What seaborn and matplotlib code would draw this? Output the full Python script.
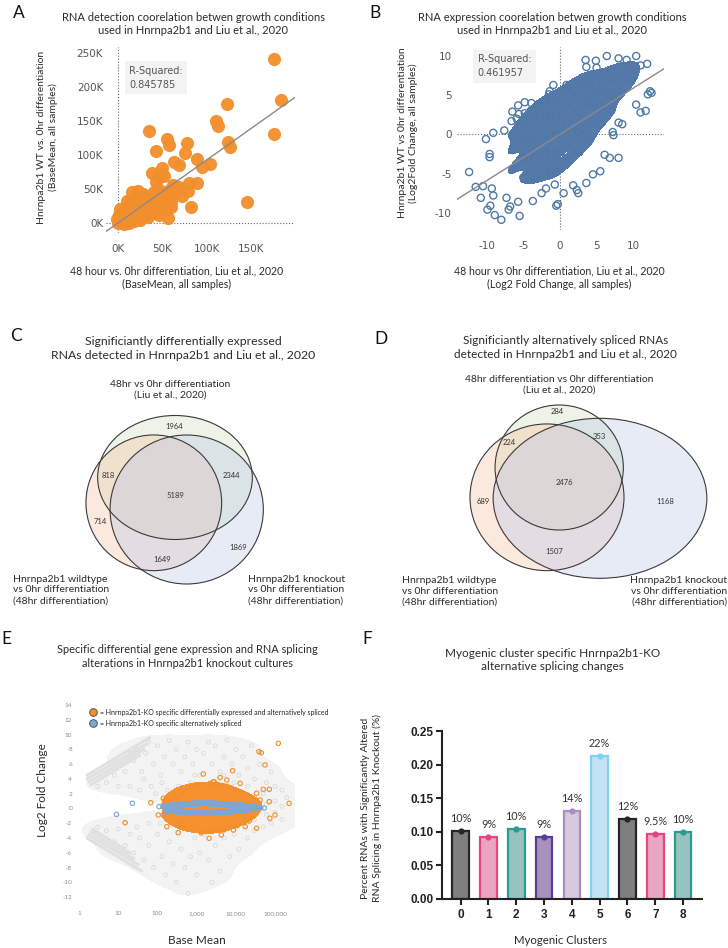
import seaborn as sns
import matplotlib.pyplot as plt
from matplotlib.patches import Ellipse
from matplotlib.colors import ListedColormap
from matplotlib.lines import Line2D
from matplotlib.ticker import NullLocator

W, H = 728, 948

# ---------------- A: BaseMean correlation (thousands) ----------------
A_X = [175.6, 184, 176, 123, 110, 112, 34.6, 54.5, 57.5, 43,
       78, 75, 124, 126, 63, 69, 89, 95, 104, 89,
       145, 81.6, 80, 79, 37.6, 46, 55.6, 49, 48, 52,
       42, 59.5, 49,
       0, 3, 5, 8, 10, 12, 15, 18, 20, 22,
       25, 26, 28, 30, 32, 35, 36, 38, 40, 42,
       44, 45, 48, 50, 52, 55, 58, 60, 62, 65,
       68, 4, 2, 10, 14, 20, 28, 6, 12, 18,
       24, 30, 34, 40, 46, 50, 55, 60, 70, 72,
       15, 10, 22, -2, 1]
A_Y = [240.7, 180, 130, 174.5, 150, 142, 135, 123, 114, 106,
       117, 103, 119, 112, 90, 85, 93, 82, 86, 59,
       31, 22.5, 59, 46.6, 73.5, 67.6, 7, 80, 72, 68,
       60, 23.6, 21,
       0, 2, 8, 3, 12, 6, 18, 10, 25, 15,
       30, 20, 8, 35, 25, 40, 18, 28, 45, 33,
       22, 50, 38, 28, 45, 35, 48, 40, 55, 45,
       52, 15, 20, 22, 30, 38, 42, -2, -1, 2,
       4, 12, 8, 14, 12, 18, 20, 30, 48, 40,
       45, 32, 46, 5, 12]
A_FIT = (0.925, 0.0)
A_R2 = "0.845785"

# ---------------- B: Log2 fold change correlation ----------------
B_OUT_X = [3.5, 4.9, 6.4, 8.0, 9.1, 10.4, 11.9, 11.0, 3.6, 5.0,
           12.3, 12.0, 12.5, 10.4, 11.0, 11.7, 8.0, 8.5, 7.2, 7.3,
           8.0, 5.5, 6.8, 6.1, -0.9, -1.4, -1.5, 0.9, -3.0, -3.9,
           -4.8, -5.7, -5.6, -4.8, -6.5, -6.6, -5.9, -7.6, -9.1, -10.1,
           -9.6, -9.6, -12.4, -11.5, -10.8, -9.9, -9.5, -8.9, -8.0, -6.8,
           -7.0, -5.5, -3.7, -2.5, -1.9, -0.5, -0.3, 0.5, 2.3, 2.5,
           1.8, 3.6, 4.5, -0.7, -10.5, -9.3, -9.1, -7.3, -5.7]
B_OUT_Y = [9.5, 9.4, 10.0, 9.7, 9.5, 10.0, 9.0, 8.8, 8.6, 8.5,
           5.5, 5.1, 5.3, 3.8, 2.8, 3.0, 1.5, 1.3, 0.3, -0.1,
           -3.0, -4.7, -3.0, -2.6, 6.3, 5.5, 5.1, 6.3, 3.7, 4.0,
           4.1, 3.7, 2.6, 2.7, 2.9, 1.7, 2.0, 0.5, 0.2, -0.6,
           -2.5, -2.9, -4.8, -6.7, -8.1, -9.6, -9.1, -10.3, -10.9, -9.2,
           -9.6, -10.4, -8.5, -7.5, -6.9, -9.1, -8.9, -7.5, -7.1, -7.5,
           -6.5, -6.2, -5.1, -6.4, -6.6, -6.9, -7.8, -8.1, -8.6]
B_CORE_X = [-6.5, -6.5, -6.5,
            -5, -5, -5, -5,
            -3.5, -3.5, -3.5, -3.5, -3.5,
            -2, -2, -2, -2, -2,
            -0.5, -0.5, -0.5, -0.5, -0.5,
            1, 1, 1, 1, 1,
            2.5, 2.5, 2.5, 2.5, 2.5,
            4, 4, 4, 4, 4,
            5.5, 5.5, 5.5, 5.5,
            7, 7, 7, 7,
            8.5, 8.5, 8.5,
            9.7, 9.7]
B_CORE_Y = [-4.5, -2, 0,
            -5.5, -3, -0.5, 1.8,
            -5.5, -3, -0.5, 2, 3.3,
            -5, -2.5, 0, 2.5, 4.3,
            -4.8, -2.3, 0, 2.5, 4.8,
            -3.5, -1, 1.5, 4, 5.8,
            -2.2, 0.3, 2.8, 5, 6.8,
            -0.8, 1.5, 4, 6, 7.3,
            1.3, 3.5, 5.5, 7.3,
            3, 5, 7, 8,
            5.5, 7, 8.2,
            7, 8.2]
B_FIT = (0.59, 0.0)
B_R2 = "0.461957"

# ---------------- C / D: Venn region counts ----------------
C_COUNTS = ["1964", "818", "2344", "5189", "714", "1649", "1869"]
D_COUNTS = ["284", "224", "353", "2476", "689", "1168", "1507"]

# ---------------- E: MA plot (base mean, log2 fold change) ----------------
E_GRAY_UP_BM = [3, 5, 8, 10, 12, 15, 20, 20, 25, 30,
                35, 40, 45, 50, 60, 70, 80, 90, 100, 120,
                130, 150, 180, 200, 250, 300, 350, 400, 500, 600,
                700, 800, 900, 1000, 1200, 1500, 2000, 2500, 3000, 4000,
                5000, 5000, 6000, 8000, 9000, 10000, 12000, 15000, 20000, 20000,
                25000, 30000, 40000, 50000, 60000, 70000, 80000, 100000, 150000, 200000,
                150, 300, 600, 1500, 4000, 10000, 30000, 60000, 100000, 150000]
E_GRAY_UP_LFC = [3.0, 3.5, 4.5, 3.0, 6.5, 5.0, 7.5, 3.0, 6.5, 8.0,
                 2.5, 5.0, 4.0, 7.5, 9.0, 3.0, 6.0, 2.0, 8.5, 4.5,
                 3.5, 7.0, 2.5, 9.2, 6.0, 8.0, 3.0, 5.0, 7.0, 9.0,
                 3.5, 6.0, 4.5, 8.0, 4.5, 7.5, 9.0, 6.0, 8.5, 5.0,
                 7.0, 4.5, 9.3, 6.0, 3.5, 8.0, 4.5, 7.0, 5.5, 3.0,
                 8.5, 4.0, 6.0, 2.0, 3.5, 1.0, 5.0, 3.0, 2.5, 1.5,
                 1.2, 1.5, 2.0, 3.0, 3.0, 2.5, 1.5, 0.5, 1.0, 0.3]
E_GRAY_LO_BM = [3, 5, 8, 10, 12, 15, 15, 20, 25, 30,
                35, 45, 60, 60, 80, 100, 120, 130, 160, 200,
                250, 300, 400, 500, 600, 700, 900, 1000, 1200, 1500,
                2000, 2500, 3000, 4000, 5000, 7000, 9000, 12000, 20000, 30000,
                50000, 80000, 150000,
                150, 300, 600, 1500, 4000, 10000, 30000, 60000, 100000]
E_GRAY_LO_LFC = [-2.5, -3.0, -4.5, -2.8, -6.0, -5.0, -2.0, -3.5, -6.0, -2.5,
                 -4.0, -7.0, -5.0, -2.0, -8.0, -3.5, -2.0, -6.5, -9.0, -4.5,
                 -7.5, -10.0, -5.5, -8.0, -11.5, -6.5, -4.0, -9.0, -6.0, -3.5,
                 -7.0, -10.0, -5.0, -8.5, -4.0, -6.5, -3.5, -5.5, -4.0, -3.0,
                 -2.5, -2.0, -1.5,
                 -1.2, -1.5, -2.5, -3.0, -3.0, -2.5, -1.5, -0.8, -0.5]
# low-count streaks: start / end of each streak
E_STREAK_BM0 = [1.6, 1.6, 1.8, 2.0, 1.6, 1.8, 2.0, 2.2]
E_STREAK_BM1 = [63, 56, 45, 35, 40, 32, 25, 20]
E_STREAK_LFC0 = [4.5, 4.0, 3.6, 3.2, -4.0, -3.6, -3.2, -2.8]
E_STREAK_LFC1 = [9.6, 8.8, 8.0, 7.2, -8.5, -7.6, -6.8, -6.0]
E_ORANGE_CORE_BM = [250, 250, 350, 350, 350, 500, 500, 500, 500, 700,
                    700, 700, 700, 1000, 1000, 1000, 1000, 1000, 1500, 1500,
                    1500, 1500, 2000, 2000, 2000, 2000, 3000, 3000, 3000, 3000,
                    4000, 4000, 4000, 6000, 6000, 6000, 6000, 9000, 9000, 9000,
                    13000, 13000, 18000, 18000, 25000]
E_ORANGE_CORE_LFC = [0.8, -0.8, 1.5, -1.3, 0.2, 2.0, -1.8, 0.5, -0.6, 2.2,
                     -2.0, 1.0, -0.9, 2.4, -2.2, 1.2, -1.1, 0.2, 2.5, -2.3,
                     1.3, -1.2, 2.5, -2.2, 0.8, -0.7, 2.4, -2.3, 1.2, -1.1,
                     2.3, -2.0, 0.3, 2.0, -1.8, 1.0, -0.9, 1.6, -1.4, 0.2,
                     1.2, -1.0, 0.8, -0.6, 0.3]
E_ORANGE_BM = [121600, 38900, 44700, 55600, 8300, 1480, 2690, 3980, 5890, 50100,
               71600, 33900, 41700, 71600, 229000, 100000, 74100, 33900, 17400, 2090,
               339, 174, 141, 105, 141, 68, 15, 4270, 8710, 12900,
               832, 500, 309, 19100, 25100, 17000, 600, 1200, 2500, 5000,
               10000, 15000, 700, 3000, 20000, 300,
               400, 450, 800, 900, 1100, 1800, 2200, 3500, 4500, 6500,
               7500, 11000, 14000, 22000, 28000, 260, 380, 1300, 2800, 6000]
E_ORANGE_LFC = [8.83, 7.7, 7.56, 5.9, 5.12, 4.67, 3.63, 4.2, 3.86, 2.6,
                2.6, 2.06, 1.15, 0.92, 0.7, -0.88, -1.33, -2.68, -2.46, -4.04,
                -3.28, -2.46, -0.88, -0.88, 1.38, 0.79, -1.92, -3.59, -2.91, 3.41,
                3.05, 2.06, 1.6, 1.15, 0.24, -0.88, 2.8, 3.2, -3.0, -2.9,
                2.5, -1.9, -2.6, 3.3, 1.8, -1.9,
                2.4, -2.2, 2.9, -2.8, 3.0, -3.1, 3.4, -2.9, 3.1, -2.6,
                2.8, -2.3, 2.1, -1.7, 1.2, 1.6, -2.1, -3.3, 3.6, 3.0]
E_BLUE_CORE_BM = [220, 300, 300, 500, 500, 800, 800, 1200, 1200, 2000, 2000,
                  3000, 3000, 5000, 5000, 8000, 8000, 12000, 12000, 18000, 25000]
E_BLUE_CORE_LFC = [0.1, 0.5, -0.4, 0.6, -0.5, 0.7, -0.6, 0.7, -0.6, 0.7, -0.6,
                   0.7, -0.6, 0.6, -0.5, 0.5, -0.4, 0.4, -0.3, 0.3, 0.1]
E_BLUE_BM = [9, 23, 110, 140, 190, 160, 28000, 34000, 43000, 53000, 30000]
E_BLUE_LFC = [-0.8, 0.7, 0.25, 0.25, 0.35, -0.5, 0.3, 0.25, 0.1, 0.05, -0.2]

# ---------------- F: myogenic clusters ----------------
F_CLUSTERS = ["0", "1", "2", "3", "4", "5", "6", "7", "8"]
F_VALUES = [0.101, 0.092, 0.104, 0.092, 0.131, 0.212, 0.119, 0.097, 0.100]
F_LABELS = ["10%", "9%", "10%", "9%", "14%", "22%", "12%", "9.5%", "10%"]
F_FACE = ["#7f7f7f", "#f49ac1", "#8ecac6", "#a48cc4", "#d8c5e2", "#bde6f8", "#7f7f7f", "#f49ac1", "#8ecac6"]
F_EDGE = ["#262626", "#e8457f", "#2a9a93", "#5a3e99", "#a98cc9", "#80d0f5", "#262626", "#e8457f", "#2a9a93"]

ORANGE = "#F28E2B"
BLUE = "#4E79A7"
E_BLUE = "#7EA6D0"

sns.set_theme(style="white")
plt.rcParams['font.family'] = ['Lato', 'DejaVu Sans']
plt.rcParams['axes.unicode_minus'] = False

fig = plt.figure(figsize=(W / 100, H / 100), dpi=100)


def px_axes(left, top, right, bottom):
    return fig.add_axes([left / W, 1 - bottom / H, (right - left) / W, (bottom - top) / H])


def tableau_ticks(ax, xpad, ypad):
    ax.tick_params(length=0, labelsize=7.5, labelcolor="#555555")
    ax.tick_params(axis='x', pad=xpad)
    ax.tick_params(axis='y', pad=ypad)
    for lab in ax.get_xticklabels() + ax.get_yticklabels():
        lab.set_fontfamily('DejaVu Sans')
    sns.despine(ax=ax, left=True, bottom=True)


# ---- A ----
ax = px_axes(106, 47, 295, 233)
ax.axvline(0, color="#666666", ls=":", lw=0.8, zorder=1)
ax.axhline(0, color="#666666", ls=":", lw=0.8, zorder=1)
sns.scatterplot(x=A_X, y=A_Y, color=ORANGE, s=90, linewidth=0, alpha=0.95, ax=ax, zorder=3)
ax.axline((0, A_FIT[1]), slope=A_FIT[0], color="#8a8a8a", lw=1, zorder=4)
ax.set_xlim(-13.9, 199.4)
ax.set_ylim(-15.1, 258.4)
ax.set_xticks([0, 50, 100, 150], labels=["0K", "50K", "100K", "150K"])
ax.set_yticks([0, 50, 100, 150, 200, 250], labels=["0K", "50K", "100K", "150K", "200K", "250K"])
tableau_ticks(ax, 8, 2)

# ---- B ----
ax = px_axes(457, 47, 664, 230)
ax.axvline(0, color="#666666", ls=":", lw=0.8, zorder=1)
ax.axhline(0, color="#666666", ls=":", lw=0.8, zorder=1)
sns.kdeplot(x=B_CORE_X, y=B_CORE_Y, fill=True, levels=[0.14, 1], bw_adjust=0.5,
            cmap=ListedColormap(["#557aa9"]), ax=ax, zorder=2)
sns.scatterplot(x=B_CORE_X + B_OUT_X, y=B_CORE_Y + B_OUT_Y, facecolors="none",
                edgecolor=BLUE, s=26, linewidth=1.0, ax=ax, zorder=3)
ax.axline((0, B_FIT[1]), slope=B_FIT[0], color="#8a8a8a", lw=1, zorder=4)
ax.set_xlim(-14.05, 14.2)
ax.set_ylim(-12.2, 11.15)
ax.set_xticks([-10, -5, 0, 5, 10])
ax.set_yticks([-10, -5, 0, 5, 10])
ax.set_xlabel("")
ax.set_ylabel("")
tableau_ticks(ax, 8, 4)

# ---- E ----
ax = px_axes(79, 701.5, 294.6, 904.4)
ax.set_xscale("log")
sns.kdeplot(x=E_GRAY_UP_BM, y=E_GRAY_UP_LFC, fill=True, levels=[0.1, 1], bw_adjust=0.7,
            log_scale=(True, False), cmap=ListedColormap(["#f3f3f3"]), ax=ax, zorder=1)
sns.kdeplot(x=E_GRAY_LO_BM, y=E_GRAY_LO_LFC, fill=True, levels=[0.1, 1], bw_adjust=0.7,
            log_scale=(True, False), cmap=ListedColormap(["#f3f3f3"]), ax=ax, zorder=1)
sns.scatterplot(x=E_GRAY_UP_BM + E_GRAY_LO_BM, y=E_GRAY_UP_LFC + E_GRAY_LO_LFC,
                facecolors="none", edgecolor="#dadada", s=8, linewidth=0.6, ax=ax, zorder=2)
for b0, b1, l0, l1 in zip(E_STREAK_BM0, E_STREAK_BM1, E_STREAK_LFC0, E_STREAK_LFC1):
    ax.plot([b0, b1], [l0, l1], color="#e0e0e0", lw=2.2, solid_capstyle="round", zorder=2)
sns.kdeplot(x=E_ORANGE_CORE_BM, y=E_ORANGE_CORE_LFC, fill=True, levels=[0.05, 1], bw_adjust=0.8,
            log_scale=(True, False), cmap=ListedColormap(["#F5922F"]), ax=ax, zorder=3)
sns.scatterplot(x=E_ORANGE_BM, y=E_ORANGE_LFC, facecolors="none", edgecolor=ORANGE,
                s=10, linewidth=0.8, ax=ax, zorder=4)
sns.kdeplot(x=E_BLUE_CORE_BM, y=E_BLUE_CORE_LFC, fill=True, levels=[0.1, 1], bw_adjust=0.6,
            log_scale=(True, False), cmap=ListedColormap([E_BLUE]), ax=ax, zorder=5)
sns.scatterplot(x=E_BLUE_BM, y=E_BLUE_LFC, facecolors="none", edgecolor=E_BLUE,
                s=10, linewidth=0.8, ax=ax, zorder=6)
ax.set_xlim(1, 316228)
ax.set_ylim(-13, 14.5)
ax.set_xticks([1, 10, 100, 1000, 10000, 100000],
              labels=["1", "10", "100", "1,000", "10,000", "100,000"])
ax.xaxis.set_minor_locator(NullLocator())
ax.set_yticks(list(range(-12, 15, 2)))
ax.tick_params(length=0, labelsize=4.6, labelcolor="#8a8a8a", pad=5)
ax.set_xlabel("")
ax.set_ylabel("")
sns.despine(ax=ax, left=True, bottom=True)
handles = [Line2D([], [], marker="o", ls="", markerfacecolor=ORANGE, markeredgecolor="#555555",
                  markersize=5.5, mew=0.7),
           Line2D([], [], marker="o", ls="", markerfacecolor=E_BLUE, markeredgecolor="#555555",
                  markersize=5.5, mew=0.7)]
ax.legend(handles, ["= Hnrnpa2b1-KO specific differentially expressed and alternatively spliced",
                    "= Hnrnpa2b1-KO specific alternatively spliced"],
          loc="upper left", bbox_to_anchor=(0.051, 0.965), frameon=False, fontsize=5.0,
          handletextpad=0.4, labelspacing=0.6, borderaxespad=0, borderpad=0, handlelength=1.0)

# ---- F ----
ax = px_axes(442, 731, 702, 898.7)
sns.barplot(x=F_CLUSTERS, y=F_VALUES, hue=F_CLUSTERS, palette=F_FACE, legend=False,
            width=0.6, linewidth=1.6, ax=ax, zorder=2)
for patch, ec in zip(ax.patches, F_EDGE):
    patch.set_edgecolor(ec)
sns.stripplot(x=F_CLUSTERS, y=F_VALUES, hue=F_CLUSTERS, palette=F_EDGE, jitter=False,
              size=4.5, linewidth=0, legend=False, ax=ax, zorder=4)
for i, (v, lab) in enumerate(zip(F_VALUES, F_LABELS)):
    ax.annotate(lab, (i, v), xytext=(0, 9), textcoords="offset points", ha="center",
                va="center", fontsize=7.8, color="#333333")
ax.set_xlim(-0.67, 8.68)
ax.set_ylim(0, 0.25)
ax.set_yticks([0, 0.05, 0.10, 0.15, 0.20, 0.25],
              labels=["0.00", "0.05", "0.10", "0.15", "0.20", "0.25"])
ax.set_xlabel("")
ax.set_ylabel("")
sns.despine(ax=ax)
for side in ["left", "bottom"]:
    ax.spines[side].set_linewidth(1.5)
    ax.spines[side].set_color("#222222")
ax.tick_params(axis="both", length=4.5, width=1.5, color="#222222", labelsize=8.5,
               labelcolor="#222222", bottom=True, left=True)
ax.tick_params(axis="y", pad=1.5)
ax.tick_params(axis="x", pad=3)
for lab in ax.get_xticklabels() + ax.get_yticklabels():
    lab.set_fontfamily("Liberation Sans")
    lab.set_fontweight("bold")

# ---- overlay: titles, labels, Venn diagrams ----
ov = fig.add_axes([0, 0, 1, 1])
ov.set_xlim(0, W)
ov.set_ylim(H, 0)
ov.axis("off")


def txt(x, y, s, size=7.5, ha="center", va="center", **kw):
    ov.text(x, y, s, fontsize=size, ha=ha, va=va, color=kw.pop("color", "#2b2b2b"),
            linespacing=kw.pop("linespacing", 1.25), **kw)


for letter, x, y in [("A", 19, 12.5), ("B", 375, 12.5), ("C", 16, 336),
                     ("D", 381, 339), ("E", 6, 639), ("F", 367, 639)]:
    txt(x, y, letter, size=12.5, color="#111111")

txt(193, 24, "RNA detection coorelation betwen growth conditions\nused in Hnrnpa2b1 and Liu et al., 2020", size=8)
txt(552, 24, "RNA expression coorelation betwen growth conditions\nused in Hnrnpa2b1 and Liu et al., 2020", size=8)
txt(47.5, 137, "Hnrnpa2b1 WT vs. 0hr differentiation\n(BaseMean, all samples)", size=7.5, rotation=90)
txt(177, 277.5, "48 hour vs. 0hr differentiation, Liu et al., 2020\n(BaseMean, all samples)", size=7.6)
txt(408, 133, "Hnrnpa2b1 WT vs 0hr differentiation\n(Log2Fold Change, all samples)", size=7.5, rotation=90)
txt(559, 277.5, "48 hour vs 0hr differentiation, Liu et al., 2020\n(Log2 Fold Change, all samples)", size=7.6)

for x, y, r2 in [(129.3, 77.5, A_R2), (477.7, 66.3, B_R2)]:
    ov.text(x, y, "R-Squared:\n" + r2, fontsize=7, ha="left", va="center", color="#555555",
            family="DejaVu Sans", linespacing=1.5,
            bbox=dict(boxstyle="square,pad=0.45", fc="#f3f3f3", ec="none"))

# Venn geometry (figure pixels): centre x, centre y, width, height
C_SHAPES = [(175, 477.5, 154.7, 124), (153.8, 502.8, 135.7, 135.7), (186.7, 509.5, 153.3, 149)]
D_SHAPES = [(559.2, 467.5, 128.3, 125), (547, 497.3, 154, 146.7), (600, 498.3, 213.7, 160)]
VENN_COLORS = ["#CEDDB8", "#F6C0A1", "#B8C6E8"]
for shapes in [C_SHAPES, D_SHAPES]:
    for (cx, cy, w, h), c in zip(shapes, VENN_COLORS):
        ov.add_patch(Ellipse((cx, cy), w, h, facecolor=c, alpha=0.35, edgecolor="none"))
    for (cx, cy, w, h) in shapes:
        ov.add_patch(Ellipse((cx, cy), w, h, facecolor="none", edgecolor="#3a3a3a", lw=0.8))

C_POS = [(174.3, 426.7), (108.3, 475), (231.7, 475), (175.7, 495.7), (100, 521.7), (161.7, 559.3), (238.3, 547.7)]
D_POS = [(557.3, 411.7), (509, 442.7), (599, 436.7), (564, 482.3), (483, 501.7), (665.7, 501.7), (554, 551.7)]
for (x, y), s in zip(C_POS + D_POS, C_COUNTS + D_COUNTS):
    txt(x, y, s, size=5.5, color="#333333")

txt(183.3, 348.5, "Significiantly differentially expressed\nRNAs detected in Hnrnpa2b1 and Liu et al., 2020", size=8.8)
txt(170, 389.5, "48hr vs 0hr differentiation\n(Liu et al., 2020)", size=7.5)
txt(13.3, 590, "Hnrnpa2b1 wildtype\nvs 0hr differentiation\n(48hr differentiation)", size=7.5, ha="left")
txt(248.3, 590, "Hnrnpa2b1 knockout\nvs 0hr differentiation\n(48hr differentiation)", size=7.5, ha="left")

txt(565.7, 347.5, "Significiantly alternatively spliced RNAs\ndetected in Hnrnpa2b1 and Liu et al., 2020", size=8.5)
txt(559, 384.5, "48hr differentiation vs 0hr differentiation\n(Liu et al., 2020)", size=7.5)
txt(402.3, 591.7, "Hnrnpa2b1 wildtype\nvs 0hr differentiation\n(48hr differentiation)", size=7.5, ha="left")
txt(727, 591.7, "Hnrnpa2b1 knockout\nvs 0hr differentiation\n(48hr differentiation)", size=7.5, ha="right",
    multialignment="right")

txt(187, 656.5, "Specific differential gene expression and RNA splicing\nalterations in Hnrnpa2b1 knockout cultures", size=7.95)
txt(42, 790, "Log2 Fold Change", size=8.5, rotation=90)
txt(197, 941, "Base Mean", size=8.5)

txt(552.7, 660, "Myogenic cluster specific Hnrnpa2b1-KO\nalternative splicing changes", size=8.5)
txt(371.5, 808, "Percent RNAs with Significantly Altered\nRNA Splicing in Hnrnpa2b1 Knockout (%)", size=7.5, rotation=90)
txt(561, 940, "Myogenic Clusters", size=8.2)

fig.savefig("out.png", dpi=100)
